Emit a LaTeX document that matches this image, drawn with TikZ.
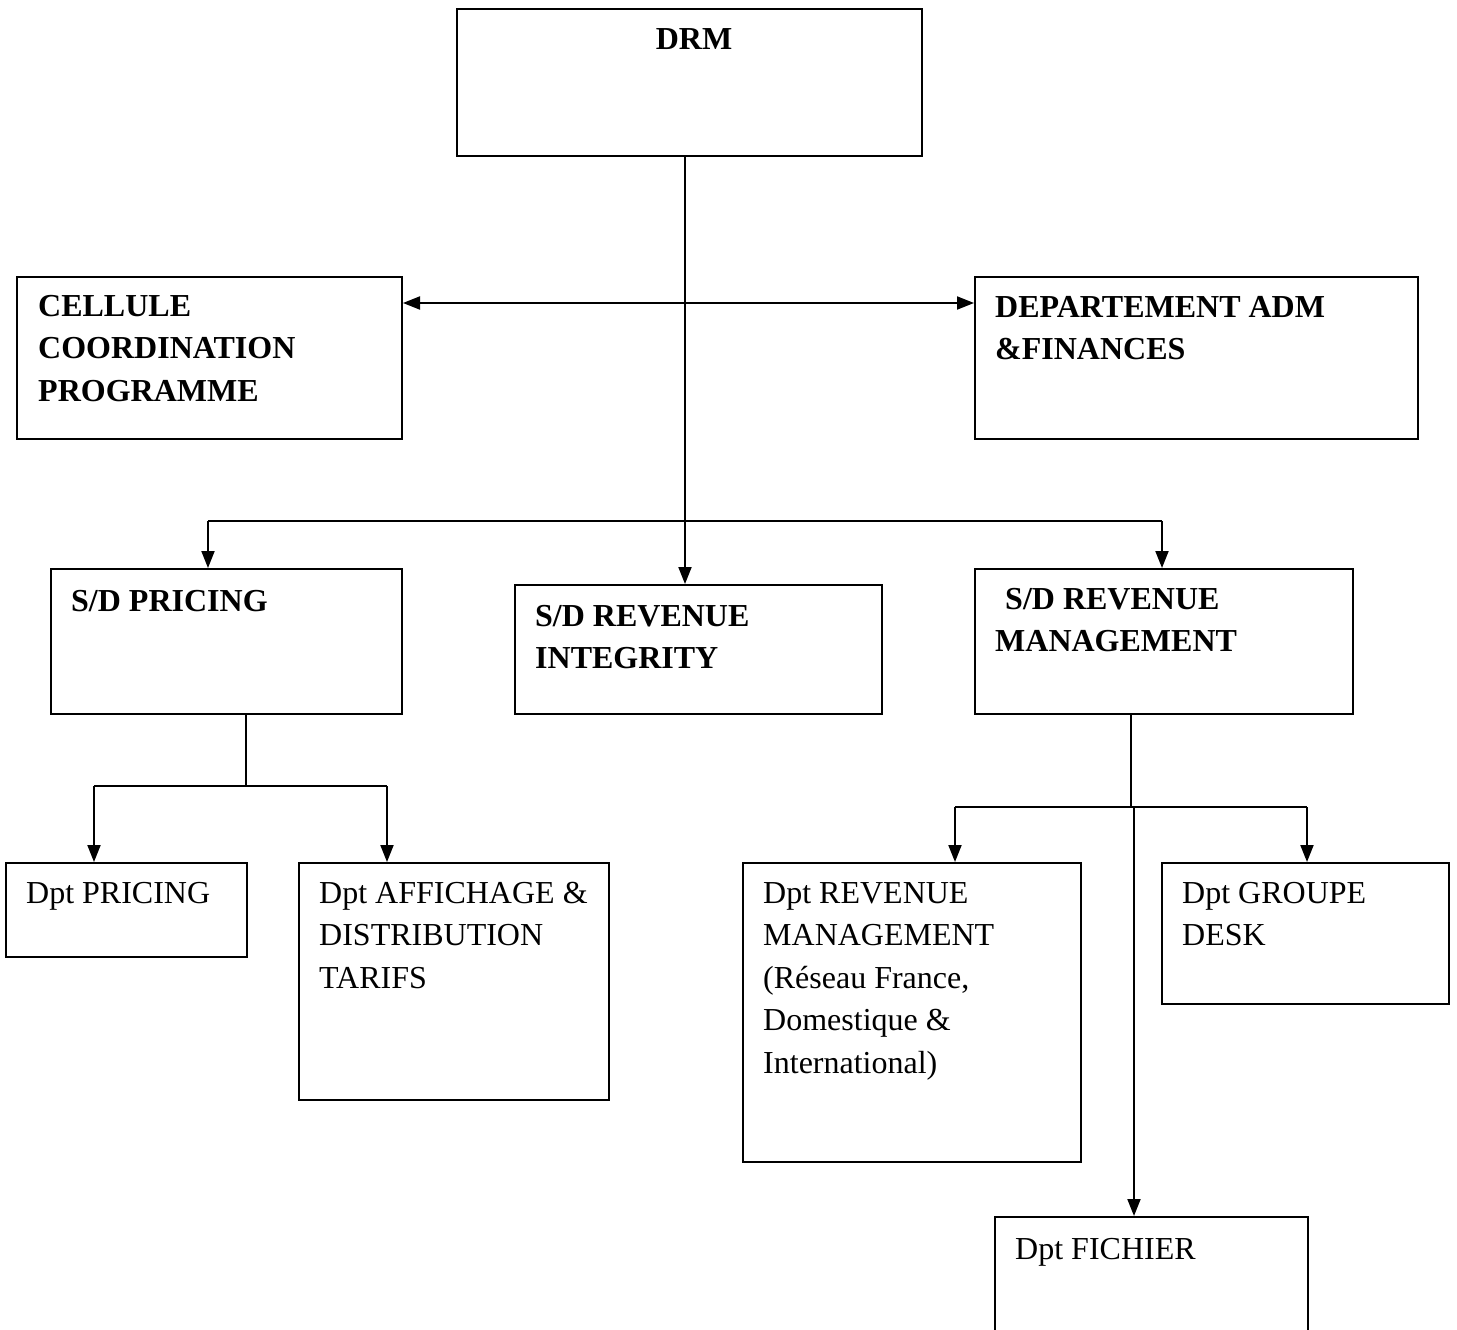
\documentclass[tikz,border=0pt]{standalone}
\usepackage{fontspec}
\setmainfont{Liberation Serif}
\usetikzlibrary{arrows.meta}
\begin{document}
\begin{tikzpicture}[x=1pt,y=-1pt,
  orgbox/.style={draw, line width=2pt, inner sep=0pt, anchor=north west},
  lbl/.style={anchor=north west, inner sep=0pt, align=left, font=\fontsize{32}{42.5}\selectfont},
  blbl/.style={lbl, font=\fontsize{32}{42.5}\selectfont\bfseries},
  link/.style={line width=2pt},
  arr/.style={link, -{Triangle[length=17pt,width=13pt]}}]
\path[use as bounding box] (0,0) rectangle (1457,1330);
\clip (0,0) rectangle (1457,1330);
\fill[white] (0,0) rectangle (1457,1330);

% boxes
\node[orgbox, minimum width=465pt, minimum height=147pt] (drm) at (456,8) {};
\node[orgbox, minimum width=385pt, minimum height=162pt] (cel) at (16,276) {};
\node[orgbox, minimum width=443pt, minimum height=162pt] (daf) at (974,276) {};
\node[orgbox, minimum width=351pt, minimum height=145pt] (sdp) at (50,568) {};
\node[orgbox, minimum width=367pt, minimum height=129pt] (sdri) at (514,584) {};
\node[orgbox, minimum width=378pt, minimum height=145pt] (sdrm) at (974,568) {};
\node[orgbox, minimum width=241pt, minimum height=94pt] (dpr) at (5,862) {};
\node[orgbox, minimum width=310pt, minimum height=237pt] (daff) at (298,862) {};
\node[orgbox, minimum width=338pt, minimum height=299pt] (drev) at (742,862) {};
\node[orgbox, minimum width=287pt, minimum height=141pt] (dgd) at (1161,862) {};
\node[orgbox, minimum width=313pt, minimum height=140pt] (dfic) at (994,1216) {};

% labels
\node[blbl, anchor=north] (tdrm) at (694,28) {DRM};
\node[blbl] (tcel) at (38,295) {CELLULE\\COORDINATION\\PROGRAMME};
\node[blbl] (tdaf) at (995,296) {DEPARTEMENT ADM\\\&FINANCES};
\node[blbl] (tsdp) at (71,590) {S/D PRICING};
\node[blbl] (tsdri) at (535,605) {S/D REVENUE\\INTEGRITY};
\node[blbl] (tsdrm1) at (1005,588) {S/D REVENUE};
\node[blbl] (tsdrm2) at (995,630) {MANAGEMENT};
\node[lbl] (tdpr) at (26,882) {Dpt PRICING};
\node[lbl] (tdaff) at (319,882) {Dpt AFFICHAGE \&\\DISTRIBUTION\\TARIFS};
\node[lbl] (tdrev) at (763,882) {Dpt REVENUE\\MANAGEMENT\\(Réseau France,\\Domestique \&\\International)};
\node[lbl] (tdgd) at (1182,882) {Dpt GROUPE\\DESK};
\node[lbl] (tdfic) at (1015,1238) {Dpt FICHIER};

% junction points
\coordinate (hub) at (685,303);
\coordinate (busL) at (208,521);
\coordinate (busR) at (1162,521);
\coordinate (pj) at (246,786);
\coordinate (pL) at (94,786);
\coordinate (pR) at (387,786);
\coordinate (rj) at (1131,807);
\coordinate (rL) at (955,807);
\coordinate (rR) at (1307,807);
\coordinate (rf) at (1134,807);

% connectors from DRM
\draw[arr] (drm.south -| hub) -- (sdri.north -| hub);
\draw[arr] (hub) -- (cel.east |- hub);
\draw[arr] (hub) -- (daf.west |- hub);
\draw[link] (busL) -- (busR);
\draw[arr] (busL) -- (sdp.north -| busL);
\draw[arr] (busR) -- (sdrm.north -| busR);

% connectors from S/D PRICING
\draw[link] (sdp.south -| pj) -- (pj);
\draw[link] (pL) -- (pR);
\draw[arr] (pL) -- (dpr.north -| pL);
\draw[arr] (pR) -- (daff.north -| pR);

% connectors from S/D REVENUE MANAGEMENT
\draw[link] (sdrm.south -| rj) -- (rj);
\draw[link] (rL) -- (rR);
\draw[arr] (rL) -- (drev.north -| rL);
\draw[arr] (rR) -- (dgd.north -| rR);
\draw[arr] (rf) -- (dfic.north -| rf);
\end{tikzpicture}
\end{document}
